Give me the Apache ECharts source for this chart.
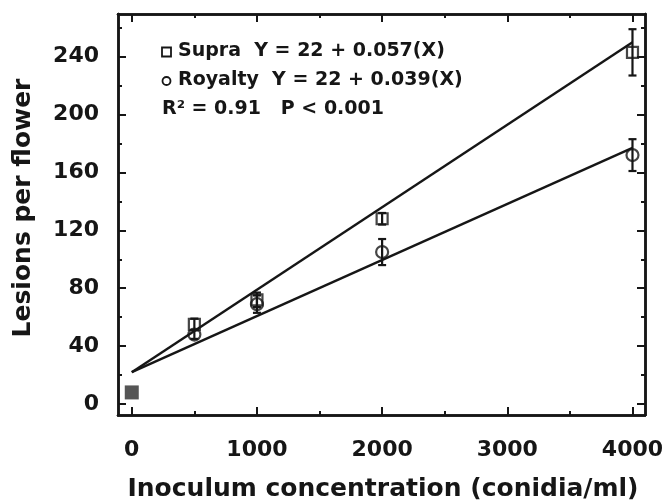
<!DOCTYPE html>
<html>
<head>
<meta charset="utf-8">
<script src="https://cdn.jsdelivr.net/npm/echarts@6/dist/echarts.min.js"></script>
<style>
  html, body { margin: 0; padding: 0; background: #fff; }
  #main { width: 669px; height: 501px; }
</style>
</head>
<body>
<div id="main"></div>
<script>
// data
const concX = [500, 1000, 2000, 4000];
const supraY = [55, 72, 128, 243];
const supraErr = [4, 5, 4, 16];
const royaltyY = [48, 69, 105, 172];
const royaltyErr = [3, 6, 9, 11];
const controlPoint = [0, 8];
const supraFit = [[0, 22], [4000, 250]];
const royaltyFit = [[0, 22], [4000, 177]];

// tick positions
const xMajor = [0, 1000, 2000, 3000, 4000];
const xMinor = [500, 1500, 2500, 3500];
const yMajor = [0, 40, 80, 120, 160, 200, 240];
const yMinor = [20, 60, 100, 140, 180, 220, 260];

const INK = "#161616";
const FONT = '"DejaVu Sans", sans-serif';

let mcharts = echarts.init(document.querySelector("#main"));

function xAx(pos, ticks, len, labels) {
  return {
    type: "value", position: pos, min: -110, max: 4100,
    axisLine: { show: true, onZero: false, lineStyle: { color: INK, width: 2.5 } },
    axisTick: { show: true, inside: true, length: len, customValues: ticks, lineStyle: { color: INK, width: 2 } },
    axisLabel: labels
      ? { show: true, customValues: labels, formatter: (v) => String(v), margin: 24, color: INK, fontFamily: FONT, fontWeight: "bold", fontSize: 22 }
      : { show: false },
    splitLine: { show: false },
  };
}
function yAx(pos, ticks, len, labels) {
  return {
    type: "value", position: pos, min: -7.6, max: 269.5,
    axisLine: { show: true, onZero: false, lineStyle: { color: INK, width: 2.5 } },
    axisTick: { show: true, inside: true, length: len, customValues: ticks, lineStyle: { color: INK, width: 2 } },
    axisLabel: labels
      ? { show: true, customValues: labels, formatter: (v) => String(v), margin: 19, color: INK, fontFamily: FONT, fontWeight: "bold", fontSize: 22 }
      : { show: false },
    splitLine: { show: false },
  };
}

function errData(ys, errs) {
  return concX.map((x, i) => [x, ys[i] - errs[i], ys[i] + errs[i]]);
}
function renderErr(params, api) {
  const x = api.value(0);
  const lo = api.coord([x, api.value(1)]);
  const hi = api.coord([x, api.value(2)]);
  const w = 4;
  const st = { stroke: INK, lineWidth: 2.2 };
  return {
    type: "group",
    children: [
      { type: "line", shape: { x1: lo[0], y1: lo[1], x2: hi[0], y2: hi[1] }, style: st },
      { type: "line", shape: { x1: lo[0] - w, y1: lo[1], x2: lo[0] + w, y2: lo[1] }, style: st },
      { type: "line", shape: { x1: hi[0] - w, y1: hi[1], x2: hi[0] + w, y2: hi[1] }, style: st },
    ],
  };
}

let option = {
  backgroundColor: "#fff",
  animation: false,
  grid: { left: 118, right: 24, top: 14, bottom: 86 },
  xAxis: [
    xAx("bottom", xMajor, 8, xMajor),
    xAx("bottom", xMinor, 4, null),
    xAx("top", xMajor, 8, null),
    xAx("top", xMinor, 4, null),
  ],
  yAxis: [
    yAx("left", yMajor, 8, yMajor),
    yAx("left", yMinor, 4, null),
    yAx("right", yMajor, 8, null),
    yAx("right", yMinor, 4, null),
  ],
  series: [
    {
      name: "Supra fit", type: "line", data: supraFit, showSymbol: false,
      lineStyle: { color: INK, width: 2.4 }, z: 2,
    },
    {
      name: "Royalty fit", type: "line", data: royaltyFit, showSymbol: false,
      lineStyle: { color: INK, width: 2.4 }, z: 2,
    },
    { name: "Supra err", type: "custom", renderItem: renderErr, data: errData(supraY, supraErr), z: 3 },
    { name: "Royalty err", type: "custom", renderItem: renderErr, data: errData(royaltyY, royaltyErr), z: 3 },
    {
      name: "Supra", type: "scatter", symbol: "rect", symbolSize: 11,
      data: concX.map((x, i) => [x, supraY[i]]),
      itemStyle: { color: "rgba(0,0,0,0)", borderColor: INK, borderWidth: 2.2 }, z: 4,
    },
    {
      name: "Royalty", type: "scatter", symbol: "circle", symbolSize: 12,
      data: concX.map((x, i) => [x, royaltyY[i]]),
      itemStyle: { color: "rgba(0,0,0,0)", borderColor: INK, borderWidth: 2.2 }, z: 4,
    },
    {
      name: "Control", type: "scatter", symbol: "rect", symbolSize: 14,
      data: [controlPoint],
      itemStyle: { color: "#2a2a2a" }, z: 4,
    },
  ],
  graphic: [
    // legend / equations
    { type: "rect", shape: { x: 162, y: 47.5, width: 9, height: 9 }, style: { fill: "none", stroke: INK, lineWidth: 1.8 } },
    { type: "circle", shape: { cx: 166.5, cy: 81, r: 4 }, style: { fill: "none", stroke: INK, lineWidth: 1.8 } },
    { type: "text", x: 178, y: 51, style: { text: "Supra  Y = 22 + 0.057(X)", font: "bold 19px " + FONT, fill: INK, verticalAlign: "middle" } },
    { type: "text", x: 178, y: 80, style: { text: "Royalty  Y = 22 + 0.039(X)", font: "bold 19px " + FONT, fill: INK, verticalAlign: "middle" } },
    { type: "text", x: 162, y: 109, style: { text: "R² = 0.91   P < 0.001", font: "bold 19px " + FONT, fill: INK, verticalAlign: "middle" } },
    // axis titles
    { type: "text", x: 383, y: 489, style: { text: "Inoculum concentration (conidia/ml)", font: "bold 25px " + FONT, fill: INK, align: "center", verticalAlign: "middle" } },
    { type: "text", x: 23, y: 208, rotation: Math.PI / 2, style: { text: "Lesions per flower", font: "bold 25px " + FONT, fill: INK, align: "center", verticalAlign: "middle" } },
  ],
};

mcharts.setOption(option);
</script>
</body>
</html>
